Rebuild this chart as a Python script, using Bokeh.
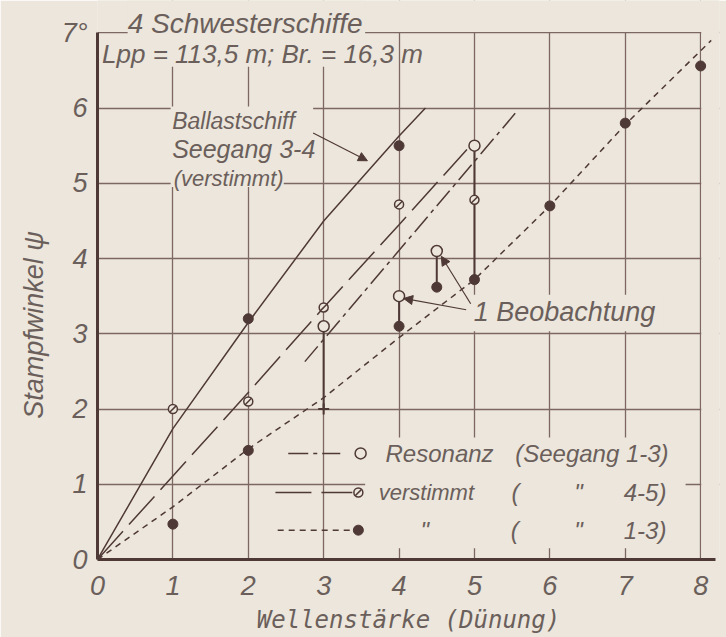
import numpy as np
from bokeh.plotting import figure
from bokeh.models import (FixedTicker, Label, BoxAnnotation, Arrow, NormalHead, Range1d, LinearAxis)
from bokeh.embed import file_html
from bokeh.resources import INLINE

# ---------------- data ----------------
x_ticks = [0, 1, 2, 3, 4, 5, 6, 7, 8]
y_ticks = [0, 1, 2, 3, 4, 5, 6, 7]
x_tick_labels = ["0", "1", "2", "3", "4", "5", "6", "7", "8"]
y_tick_labels = ["0", "1", "2", "3", "4", "5", "6", "7°"]
grid_x = [1, 2, 3, 4, 5, 6, 7, 8]
grid_y = [1, 2, 3, 4, 5, 6, 7]

# mean curves
ballast_x = [0, 1, 2, 3, 4, 4.35]
ballast_y = [0, 1.74, 3.15, 4.5, 5.63, 6.0]
vers45_line_x = [0, 1, 2, 3, 4, 4.9]
vers45_line_y = [0, 1.11, 2.22, 3.35, 4.45, 5.45]
reson_line_x = [2.75, 5.54]
reson_line_y = [2.63, 5.93]
vers13_line_x = [0, 1, 2, 3, 4, 5, 6, 7, 8.14]
vers13_line_y = [0, 0.7, 1.47, 2.15, 2.95, 3.72, 4.7, 5.78, 6.9]

# observations
reson_x = [3, 4, 4.5, 5]
reson_y = [3.1, 3.5, 4.1, 5.5]
vers45_x = [1, 2, 3, 4, 5]
vers45_y = [2.0, 2.1, 3.35, 4.72, 4.78]
vers13_x = [1, 2, 2, 4, 4, 4.5, 5, 6, 7, 8]
vers13_y = [0.47, 1.45, 3.2, 5.5, 3.1, 3.62, 3.72, 4.7, 5.8, 6.56]

# single observations (vertical connectors)
pair_x = [3, 4, 4.5, 5]
pair_top = [3.1, 3.5, 4.1, 5.5]
pair_bottom = [2.0, 3.1, 3.62, 3.72]

# ---------------- style ----------------
BG = "#ece6dc"
INK = "#4f3936"
GRID = "#7d6763"
TXT = "#6b5f5b"
FONT = "Liberation Sans"

p = figure(width=726, height=637, output_backend="svg", toolbar_location=None,
           x_range=Range1d(0, 8.25), y_range=Range1d(0, 7.43),
           min_border_left=97, min_border_right=7, min_border_top=0, min_border_bottom=78)
p.background_fill_color = BG
p.border_fill_color = BG
p.outline_line_color = None

# grid
p.xgrid.ticker = FixedTicker(ticks=grid_x)
p.ygrid.ticker = FixedTicker(ticks=grid_y)
for g in (p.xgrid, p.ygrid):
    g.grid_line_color = GRID
    g.grid_line_width = 1.3

# axes
p.xaxis.ticker = FixedTicker(ticks=x_ticks)
p.yaxis.ticker = FixedTicker(ticks=y_ticks)
p.xaxis.major_label_overrides = {t: s for t, s in zip(x_ticks, x_tick_labels)}
p.yaxis.major_label_overrides = {t: s for t, s in zip(y_ticks, y_tick_labels)}
p.xaxis.bounds = (0, 8.2)
p.yaxis.bounds = (0, 7)
for ax in (p.xaxis, p.yaxis):
    ax.axis_line_color = INK
    ax.axis_line_width = 3
    ax.major_tick_out = 0
    ax.major_tick_in = 0
    ax.minor_tick_out = 0
    ax.minor_tick_in = 0
    ax.major_tick_line_color = None
    ax.minor_tick_line_color = None
    ax.major_label_text_font = FONT
    ax.major_label_text_font_style = "italic"
    ax.major_label_text_font_size = "27px"
    ax.major_label_text_color = TXT
p.xaxis.major_label_standoff = 16
p.yaxis.major_label_standoff = 10

# x axis title
p.xaxis.axis_label = "Wellenstärke (Dünung)"
p.xaxis.axis_label_standoff = 8
p.xaxis.axis_label_text_font = "DejaVu Sans Mono"
p.xaxis.axis_label_text_font_style = "italic"
p.xaxis.axis_label_text_font_size = "24px"
p.xaxis.axis_label_text_color = TXT

# y axis title on an extra, otherwise invisible axis; trailing no-break spaces
# push the visible words down to where the original has them
ytitle = LinearAxis(ticker=FixedTicker(ticks=[]),
                    axis_line_color=None, major_tick_line_color=None, minor_tick_line_color=None,
                    major_tick_out=0, major_tick_in=0, minor_tick_out=0, minor_tick_in=0,
                    major_label_text_font_size="0px",
                    axis_label="Stampfwinkel ψ" + "\u00a0" * 12, axis_label_standoff=10,
                    axis_label_text_font=FONT, axis_label_text_font_style="italic",
                    axis_label_text_font_size="27px", axis_label_text_color=TXT)
p.add_layout(ytitle, "left")

# blanking boxes (text areas of the original drawing cut the grid)
def blank(l, r, b, t):
    p.add_layout(BoxAnnotation(left=l, right=r, bottom=b, top=t, fill_color=BG,
                               fill_alpha=1, line_color=None, level="underlay"))

blank(0, 8.25, 7.012, 7.43)
blank(8.008, 8.25, 0, 7.43)
blank(0.40, 3.55, 6.95, 7.43)
blank(0.02, 3.95, 6.55, 6.96)
blank(0.97, 2.86, 5.03, 6.02)
blank(0.97, 2.47, 4.95, 5.04)
blank(3.55, 7.8, 0.15, 1.62)
blank(4.97, 7.5, 3.035, 3.52)

# curves
p.line(ballast_x, ballast_y, line_color=INK, line_width=1.5)
p.line(vers45_line_x, vers45_line_y, line_color=INK, line_width=1.5, line_dash="38 9")
p.line(reson_line_x, reson_line_y, line_color=INK, line_width=1.5, line_dash="20 5 4 5")
p.line(vers13_line_x, vers13_line_y, line_color=INK, line_width=1.5, line_dash="6 5")

# connectors
p.segment(x0=pair_x, y0=pair_top, x1=pair_x, y1=pair_bottom, line_color=INK, line_width=2)
p.scatter(pair_x[:1], pair_bottom[:1], marker="cross", size=11, line_color=INK, line_width=2)

# points
p.scatter(vers13_x, vers13_y, marker="circle", size=10, fill_color=INK, line_color=INK)
p.scatter(vers45_x, vers45_y, marker="circle", size=9, fill_color=BG, line_color=INK, line_width=1.5)
p.scatter(vers45_x, vers45_y, marker="dash", angle=np.pi / 4, size=9, line_color=INK, line_width=1.5)
p.scatter(reson_x, reson_y, marker="circle", size=11, fill_color=BG, line_color=INK, line_width=1.5)

# legend (drawn like the original: line sample, marker, text)
ly = [1.41, 0.89, 0.39]
p.segment(x0=[2.53], y0=[ly[0]], x1=[3.22], y1=[ly[0]], line_color=INK, line_width=1.5, line_dash="20 5 4 5")
p.segment(x0=[2.36], y0=[ly[1]], x1=[3.38], y1=[ly[1]], line_color=INK, line_width=1.5, line_dash="36 10")
p.segment(x0=[2.39], y0=[ly[2]], x1=[3.36], y1=[ly[2]], line_color=INK, line_width=1.5, line_dash="6 5")
p.scatter([3.49], [ly[0]], marker="circle", size=11, fill_color=BG, line_color=INK, line_width=1.5)
p.scatter([3.46], [ly[1]], marker="circle", size=9, fill_color=BG, line_color=INK, line_width=1.5)
p.scatter([3.46], [ly[1]], marker="dash", angle=np.pi / 4, size=9, line_color=INK, line_width=1.5)
p.scatter([3.46], [ly[2]], marker="circle", size=10, fill_color=INK, line_color=INK)

def label(x, y, text, size, align="left", baseline="middle", angle=0.0, font=FONT):
    p.add_layout(Label(x=x, y=y, text=text, text_font=font, text_font_style="italic",
                       text_font_size=size, text_color=TXT, text_align=align,
                       text_baseline=baseline, angle=angle))

label(3.82, ly[0], "Resonanz", "24px")
label(5.54, ly[0], "(Seegang 1-3)", "24px")
label(3.73, ly[1], "verstimmt", "22px")
label(5.49, ly[1], "(", "24px")
label(6.38, ly[1], '"', "24px", align="center")
label(6.98, ly[1], "4-5)", "24px")
label(4.34, ly[2], '"', "24px", align="center")
label(5.48, ly[2], "(", "24px")
label(6.38, ly[2], '"', "24px", align="center")
label(6.98, ly[2], "1-3)", "24px")

# annotations
label(0.40, 7.12, "4 Schwesterschiffe", "28px")
label(0.06, 6.72, "Lpp = 113,5 m;  Br. = 16,3 m", "26px")
label(0.99, 5.83, "Ballastschiff", "23px")
label(0.99, 5.46, "Seegang 3-4", "25px")
label(1.01, 5.07, "(verstimmt)", "22px")
label(4.99, 3.29, "1 Beobachtung", "27px")

head = dict(size=9, fill_color=INK, line_color=INK)
p.add_layout(Arrow(end=NormalHead(**head), x_start=2.86, y_start=5.67, x_end=3.58, y_end=5.30,
                   line_color=INK, line_width=1.2))
p.add_layout(Arrow(end=NormalHead(**head), x_start=4.95, y_start=3.40, x_end=4.56, y_end=4.03,
                   line_color=INK, line_width=1.2))
p.add_layout(Arrow(end=NormalHead(**head), x_start=4.89, y_start=3.32, x_end=4.06, y_end=3.47,
                   line_color=INK, line_width=1.2))

open("out.html", "w").write(file_html(p, INLINE))
